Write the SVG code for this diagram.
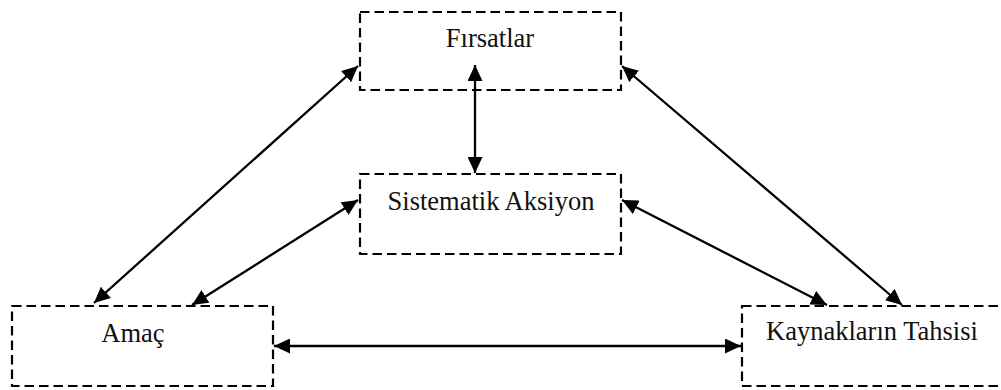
<svg xmlns="http://www.w3.org/2000/svg" width="1001" height="390" viewBox="0 0 1001 390">
<style>
.box{fill:none;stroke:#000;stroke-width:2.2;stroke-dasharray:9.5 5}
.lbl{font-family:"Liberation Serif","Times New Roman",serif;font-size:26.5px;fill:#111;text-anchor:middle}
.con{stroke:#000;stroke-width:2.3;fill:none;marker-start:url(#ah);marker-end:url(#ah)}
</style>
<defs>
<marker id="ah" markerUnits="userSpaceOnUse" markerWidth="17" markerHeight="15" refX="16" refY="7.5" orient="auto-start-reverse" viewBox="0 0 17 15">
<path d="M0,0 L16,7.5 L0,15 z" fill="#000"/>
</marker>
</defs>
<rect width="1001" height="390" fill="#fff"/>
<g id="connectors">
<line class="con" x1="475" y1="65" x2="475" y2="173"/>
<line class="con" x1="94" y1="303" x2="358" y2="66"/>
<line class="con" x1="192" y1="305" x2="358" y2="200"/>
<line class="con" x1="622" y1="200" x2="827" y2="305"/>
<line class="con" x1="622" y1="66" x2="902" y2="305"/>
<line class="con" x1="274" y1="346" x2="741" y2="346"/>
</g>
<g id="firsatlar">
<rect class="box" x="360" y="12" width="261" height="78"/>
<text class="lbl" x="490" y="47">Fırsatlar</text>
</g>
<g id="sistematik">
<rect class="box" x="360" y="174" width="261" height="80"/>
<text class="lbl" x="491" y="210">Sistematik Aksiyon</text>
</g>
<g id="amac">
<rect class="box" x="12" y="306" width="261" height="80"/>
<text class="lbl" x="133" y="342">Amaç</text>
</g>
<g id="kaynaklar">
<rect class="box" x="742" y="306" width="262" height="80"/>
<text class="lbl" x="872" y="340">Kaynakların Tahsisi</text>
</g>
</svg>
